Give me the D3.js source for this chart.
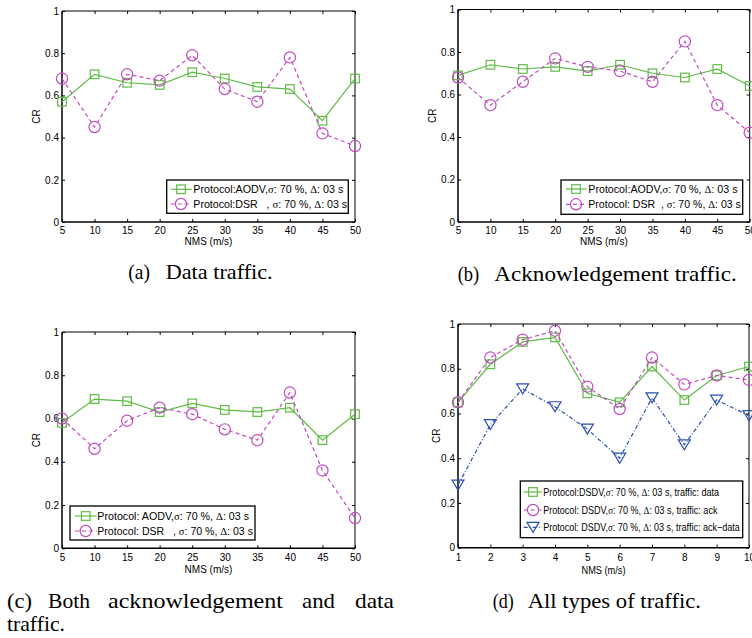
<!DOCTYPE html>
<html><head><meta charset="utf-8">
<script src="https://cdn.jsdelivr.net/npm/d3@7"></script>
<style>body{margin:0;background:#fff} svg{display:block}</style>
</head><body><svg id="c" width="752" height="638"></svg>
<script>
// ---------- data ----------
const nmsSpeed = [5,10,15,20,25,30,35,40,45,50];
const nmsIndex = [1,2,3,4,5,6,7,8,9,10];
const dataAODV = [0.57,0.70,0.66,0.65,0.71,0.68,0.64,0.63,0.48,0.68];
const dataDSR  = [0.68,0.45,0.70,0.67,0.79,0.63,0.57,0.78,0.42,0.36];
const ackAODV  = [0.69,0.74,0.72,0.73,0.71,0.74,0.70,0.68,0.72,0.64];
const ackDSR   = [0.68,0.55,0.66,0.77,0.73,0.71,0.66,0.85,0.55,0.42];
const bothAODV = [0.58,0.69,0.68,0.63,0.67,0.64,0.63,0.65,0.50,0.62];
const bothDSR  = [0.60,0.46,0.59,0.65,0.62,0.55,0.50,0.72,0.36,0.14];
const dsdvData    = [0.65,0.82,0.92,0.94,0.69,0.65,0.81,0.66,0.77,0.81];
const dsdvAck     = [0.65,0.85,0.93,0.97,0.72,0.62,0.85,0.73,0.77,0.75];
const dsdvAckData = [0.28,0.55,0.71,0.63,0.53,0.40,0.67,0.46,0.66,0.59];
const yTickValues = [0,0.2,0.4,0.6,0.8,1];
const yTickLabels = ["0","0.2","0.4","0.6","0.8","1"];
const xLabel = "NMS (m/s)", yLabel = "CR";
const legendA = ["Protocol:AODV,σ: 70 %, Δ: 03 s", "Protocol:DSR   , σ: 70 %, Δ: 03 s"];
const legendB = ["Protocol:AODV,σ: 70 %, Δ: 03 s", "Protocol: DSR  , σ: 70 %, Δ: 03 s"];
const legendC = ["Protocol: AODV,σ: 70 %, Δ: 03 s", "Protocol: DSR   , σ: 70 %, Δ: 03 s"];
const legendD = ["Protocol:DSDV,σ: 70 %, Δ: 03 s, traffic: data",
                 "Protocol: DSDV,σ: 70 %, Δ: 03 s, traffic: ack",
                 "Protocol: DSDV,σ: 70 %, Δ: 03 s, traffic: ack−data"];

// ---------- styles ----------
const GREEN = "#5fbb45", MAGENTA = "#c04cc0", BLUE = "#2b4fb3";
const SANS = "'Liberation Sans', Arial, sans-serif";
const SERIF = "'Liberation Serif', 'Times New Roman', serif";
const styleAODV = {color: GREEN, dash: null, marker: "square"};
const styleDSR  = {color: MAGENTA, dash: "4,3", marker: "circle"};
const styleTri  = {color: BLUE, dash: "4,2,1,2", marker: "triangle"};

const panels = [
  {l:62, r:355, t:11, b:222, xs:nmsSpeed, dom:[5,50], tickBase:234, labBase:245, cr:36, labW:null,
   series:[[dataAODV,styleAODV],[dataDSR,styleDSR]],
   leg:{x0:166.7,x1:348.3,y0:180,y1:213.3, rows:[189.3,204], s0:170.7,s1:191.7, m:181, tx:193.3, tw:[150,154], labels:legendA}},
  {l:458, r:749.7, t:9.5, b:222, xs:nmsSpeed, dom:[5,50], tickBase:234, labBase:245, cr:432.7, labW:null,
   series:[[ackAODV,styleAODV],[ackDSR,styleDSR]],
   leg:{x0:561,x1:742.7,y0:180,y1:214.3, rows:[189,204.3], s0:566,s1:586.7, m:576, tx:588.3, tw:[149.3,152.7], labels:legendB}},
  {l:62, r:355, t:332, b:548.3, xs:nmsSpeed, dom:[5,50], tickBase:561, labBase:573, cr:36, labW:null,
   series:[[bothAODV,styleAODV],[bothDSR,styleDSR]],
   leg:{x0:70,x1:255,y0:506,y1:540, rows:[516,531], s0:75,s1:96.7, m:85.7, tx:97.3, tw:[152,156], labels:legendC}},
  {l:458, r:749, t:324, b:547.7, xs:nmsIndex, dom:[1,10], tickBase:561, labBase:574, cr:436, labW:44,
   series:[[dsdvData,styleAODV],[dsdvAck,styleDSR],[dsdvAckData,styleTri]],
   leg:{x0:520.3,x1:742.7,y0:481,y1:537.7, rows:[492,510,527.3], s0:523.7,s1:542, m:533, tx:543.3, tw:[176,174.3,196.7], labels:legendD}}
];

const captions = [
  {parts:[["(a)",128.3,150],["Data traffic.",165.7,272.7]], base:279},
  {parts:[["(b)",457.7,479.3],["Acknowledgement traffic.",494.3,736.7]], base:281},
  {parts:[["(c)",7,32],["Both",48,90],["acknowledgement",108,283],["and",302,335],["data",355,394]], base:608},
  {parts:[["traffic.",7,65]], base:631},
  {parts:[["(d)",492.7,513.7],["All types of traffic.",527.7,701]], base:608}
];

const svg = d3.select("#c");

function marker(g, kind, cx, cy, color) {
  if (kind === "square") {
    g.append("rect").attr("x", cx-4.3).attr("y", cy-4.3).attr("width", 8.6).attr("height", 8.6)
      .attr("fill","none").attr("stroke", color).attr("stroke-width", 1.2);
  } else if (kind === "circle") {
    g.append("circle").attr("cx", cx).attr("cy", cy).attr("r", 5.6)
      .attr("fill","none").attr("stroke", color).attr("stroke-width", 1.2);
  } else {
    g.append("path").attr("d", `M${cx-6},${cy-5}L${cx+6},${cy-5}L${cx},${cy+5}Z`)
      .attr("fill","none").attr("stroke", color).attr("stroke-width", 1.2);
  }
}

function richText(sel, str) {
  const pieces = str.split(/([σΔ])/);
  pieces.forEach(p => {
    if (!p) return;
    const t = sel.append("tspan").text(p);
    if (p === "σ" || p === "Δ") t.attr("font-family", SERIF);
  });
}

// horizontally fit a text element to a target width via a scale transform
function fitWidth(t, x, y, w) {
  const nat = t.node().getComputedTextLength();
  const k = nat > 0 ? w / nat : 1;
  t.attr("x", 0).attr("y", 0).attr("transform", `translate(${x},${y}) scale(${k},1)`);
}

panels.forEach(p => {
  const g = svg.append("g");
  const x = d3.scaleLinear().domain(p.dom).range([p.l, p.r]);
  const y = d3.scaleLinear().domain([0,1]).range([p.b, p.t]);

  const styleAxis = a => {
    a.select(".domain").remove();
    a.attr("font-family", SANS).attr("font-size", 10);
    a.selectAll("line").attr("stroke", "#000");
    a.selectAll("text").attr("fill", "#000");
  };
  const bottom = g.append("g").attr("transform", `translate(0,${p.b})`)
    .call(d3.axisBottom(x).tickValues(p.xs).tickFormat(d3.format("d")).tickSize(-3).tickPadding(5));
  styleAxis(bottom);
  bottom.selectAll("text").attr("dy", null).attr("y", p.tickBase - p.b);
  const top = g.append("g").attr("transform", `translate(0,${p.t})`)
    .call(d3.axisTop(x).tickValues(p.xs).tickFormat("").tickSize(-3));
  styleAxis(top);
  const left = g.append("g").attr("transform", `translate(${p.l},0)`)
    .call(d3.axisLeft(y).tickValues(yTickValues).tickFormat((d,i)=>yTickLabels[i]).tickSize(-3).tickPadding(3));
  styleAxis(left);
  const right = g.append("g").attr("transform", `translate(${p.r},0)`)
    .call(d3.axisRight(y).tickValues(yTickValues).tickFormat("").tickSize(-3));
  styleAxis(right);

  // box
  g.append("line").attr("x1",p.l).attr("x2",p.r).attr("y1",p.t).attr("y2",p.t).attr("stroke","#000").attr("stroke-width",1);
  g.append("line").attr("x1",p.r).attr("x2",p.r).attr("y1",p.t).attr("y2",p.b).attr("stroke","#000").attr("stroke-width",1);
  g.append("line").attr("x1",p.l).attr("x2",p.r).attr("y1",p.b).attr("y2",p.b).attr("stroke","#000").attr("stroke-width",1.5);
  g.append("line").attr("x1",p.l).attr("x2",p.l).attr("y1",p.t).attr("y2",p.b).attr("stroke","#000").attr("stroke-width",1.5);

  // axis labels
  const xl = g.append("text").attr("x", (p.l+p.r)/2).attr("y", p.labBase).attr("text-anchor","middle")
    .attr("font-family", SANS).attr("font-size", 10).text(xLabel);
  if (p.labW) xl.attr("textLength", p.labW).attr("lengthAdjust", "spacingAndGlyphs");
  g.append("text").attr("transform", `translate(${p.cr + 3.5},${(p.t+p.b)/2}) rotate(-90)`)
    .attr("text-anchor","middle").attr("font-family", SANS).attr("font-size", 10).text(yLabel);

  // series
  p.series.forEach(([vals, st]) => {
    const pts = vals.map((v,i) => [x(p.xs[i]), y(v)]);
    g.append("path").attr("d", d3.line()(pts)).attr("fill","none")
      .attr("stroke", st.color).attr("stroke-width", 1.2)
      .attr("stroke-dasharray", st.dash);
    pts.forEach(([cx,cy]) => marker(g, st.marker, cx, cy, st.color));
  });

  // legend
  const L = p.leg;
  g.append("rect").attr("x", L.x0).attr("y", L.y0).attr("width", L.x1-L.x0).attr("height", L.y1-L.y0)
    .attr("fill", "#fff").attr("stroke", "#000").attr("stroke-width", 1.3);
  p.series.forEach(([vals, st], i) => {
    const ry = L.rows[i];
    g.append("line").attr("x1", L.s0).attr("x2", L.s1).attr("y1", ry).attr("y2", ry)
      .attr("stroke", st.color).attr("stroke-width", 1.2).attr("stroke-dasharray", st.dash);
    marker(g, st.marker, L.m, ry, st.color);
    const t = g.append("text").attr("font-family", SANS).attr("font-size", 10.5)
      .style("white-space","pre");
    richText(t, L.labels[i]);
    fitWidth(t, L.tx, ry + 3.7, L.tw[i]);
  });
});

// captions
captions.forEach(c => {
  c.parts.forEach(([txt, x0, x1]) => {
    svg.append("text").attr("x", x0).attr("y", c.base)
      .attr("font-family", SERIF).attr("font-size", 21).attr("fill", "#000")
      .attr("textLength", x1 - x0).attr("lengthAdjust", "spacingAndGlyphs").text(txt);
  });
});
</script></body></html>
